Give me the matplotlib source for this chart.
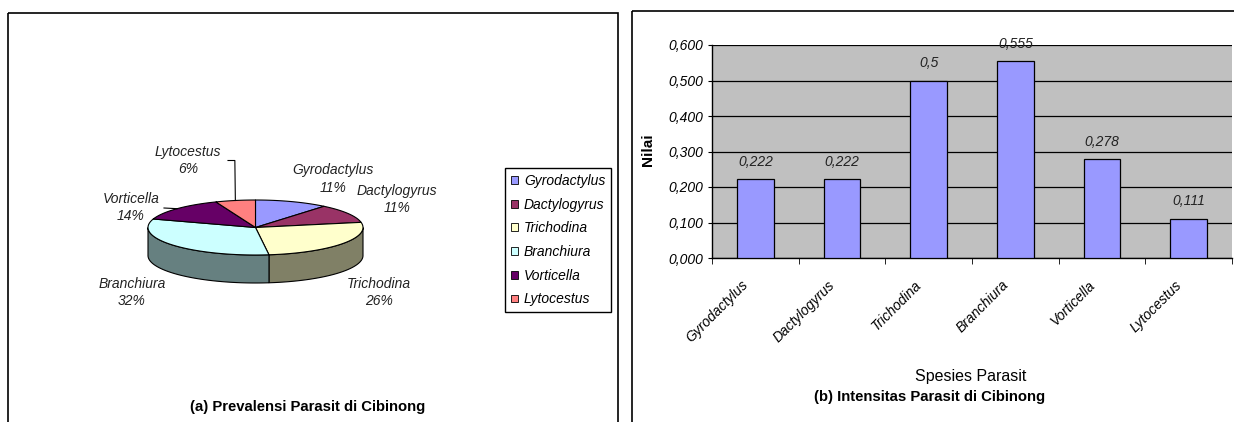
import numpy as np
import matplotlib.pyplot as plt
import matplotlib.colors as mcolors
import matplotlib.transforms as mtransforms
from matplotlib.patches import Polygon, Rectangle, Patch

plt.rcParams['font.family'] = ['Liberation Sans', 'DejaVu Sans']

# data
species = ["Gyrodactylus", "Dactylogyrus", "Trichodina", "Branchiura", "Vorticella", "Lytocestus"]
prevalence = [11, 11, 26, 32, 14, 6]          # %
intensity = [0.222, 0.222, 0.5, 0.555, 0.278, 0.111]
pie_colors = ["#9999FF", "#993366", "#FFFFCC", "#CCFFFF", "#660066", "#FF8080"]
bar_color = "#9999FF"

W, H = 1234, 422
fig = plt.figure(figsize=(W / 100, H / 100), dpi=100)

# overlay axes in pixel units (y down) for frames and the 3-D pie
ov = fig.add_axes([0, 0, 1, 1])
ov.set_xlim(0, W)
ov.set_ylim(H, 0)
ov.axis("off")

ov.add_patch(Rectangle((8, 13), 610, 420, fill=False, ec="black", lw=1.2, clip_on=False))
ov.add_patch(Rectangle((632, 11), 610, 420, fill=False, ec="black", lw=1.2, clip_on=False))

# ---- (a) 3-D pie ----
cx, cy, rx, ry, depth = 255.5, 227.5, 107.5, 27.5, 28


def rim(t, dy=0.0):
    t = np.radians(t)
    return np.column_stack([cx + rx * np.cos(t), cy - ry * np.sin(t) + dy])


fracs = np.array(prevalence, dtype=float) / sum(prevalence)
ends = 90 - 360 * np.cumsum(fracs)
starts = np.r_[90, ends[:-1]]

# side walls (only the front half is visible)
for a1, a2, c in zip(starts, ends, pie_colors):
    lo, hi = max(a2, -180), min(a1, 0)
    if hi <= lo:
        continue
    dark = tuple(np.array(mcolors.to_rgb(c)) * 0.5)
    top = rim(np.linspace(hi, lo, 80))
    bot = rim(np.linspace(lo, hi, 80), depth)
    ov.add_patch(Polygon(np.vstack([top, bot]), closed=True, fc=dark, ec="black", lw=0.8))

# top faces
for a1, a2, c in zip(starts, ends, pie_colors):
    pts = np.vstack([[cx, cy], rim(np.linspace(a1, a2, 80))])
    ov.add_patch(Polygon(pts, closed=True, fc=c, ec="black", lw=0.8, joinstyle="round"))

# labels (block centres in pixels)
label_pos = [(333, 179), (397, 199.5), (379, 292.5), (132, 292.5), (131, 207.5), (188, 160.5)]
for name, p, (lx, ly) in zip(species, prevalence, label_pos):
    ov.text(lx, ly, f"{name}\n{p}%", ha="center", va="center", fontsize=10,
            fontstyle="italic", linespacing=1.35, color="#222222")

mids = (starts + ends) / 2
# leader for Lytocestus
ex, ey = rim([mids[5]])[0]
ov.plot([228, ex - 0.5, ex], [160.5, 160.5, ey], color="black", lw=0.8)
# leader for Vorticella
vx, vy = rim([mids[4]])[0]
ov.plot([164, vx], [208, vy], color="black", lw=0.8)

handles = [Patch(facecolor=c, edgecolor="black", lw=0.6) for c in pie_colors]
fig.legend(handles, species, loc="upper left", bbox_to_anchor=(505 / W, 1 - 168 / H),
           prop={"style": "italic", "size": 10}, frameon=True, fancybox=False,
           edgecolor="black", framealpha=1, handlelength=0.5, handleheight=0.5,
           handletextpad=0.45, labelspacing=0.7, borderpad=0.42, borderaxespad=0)

fig.text(308 / W, 1 - 407 / H, "(a) Prevalensi Parasit di Cibinong", ha="center", va="center",
         fontsize=10.7, fontweight="bold")

# ---- (b) bar chart ----
ax = fig.add_axes([712 / W, 1 - 258 / H, (1232 - 712) / W, (258 - 45) / H])
x = np.arange(len(species))
ax.bar(x, intensity, width=0.42, color=bar_color, edgecolor="black", linewidth=0.9, zorder=3)
ax.set_xlim(-0.5, len(species) - 0.5)
ax.set_ylim(0, 0.6)
ax.set_facecolor("#C0C0C0")

yt = np.arange(0, 0.61, 0.1)
ax.set_yticks(yt)
ax.set_yticklabels([f"{v:.3f}".replace(".", ",") for v in yt], fontstyle="italic", fontsize=10)
ax.yaxis.grid(True, color="black", lw=0.9)
ax.set_axisbelow(True)
ax.tick_params(axis="y", length=3, pad=3)

ax.set_xticks(x)
ax.set_xticklabels(species, rotation=45, ha="right", va="center", rotation_mode="anchor",
                   fontstyle="italic", fontsize=10)
ax.tick_params(axis="x", which="major", length=0, pad=18)
shift = mtransforms.ScaledTranslation(-9 / 100, 0, fig.dpi_scale_trans)
for lab in ax.get_xticklabels():
    lab.set_transform(lab.get_transform() + shift)
ax.set_xticks(np.arange(-0.5, len(species)), minor=True)
ax.tick_params(axis="x", which="minor", length=4, direction="out")

for s in ("top", "right"):
    ax.spines[s].set_visible(False)
for s in ("left", "bottom"):
    ax.spines[s].set_linewidth(1.0)

for xi, v in zip(x, intensity):
    ax.annotate(f"{v:g}".replace(".", ","), (xi, v), xytext=(0, 7.5), textcoords="offset points",
                ha="center", va="bottom", fontstyle="italic", fontsize=10, color="#222222")

fig.text(648 / W, 1 - 150 / H, "Nilai", rotation=90, ha="center", va="center",
         fontsize=11, fontweight="bold")
fig.text(971 / W, 1 - 377 / H, "Spesies Parasit", ha="center", va="center", fontsize=11.5)
fig.text(930 / W, 1 - 397 / H, "(b) Intensitas Parasit di Cibinong", ha="center", va="center",
         fontsize=10.7, fontweight="bold")

fig.savefig("out.png", dpi=100)
